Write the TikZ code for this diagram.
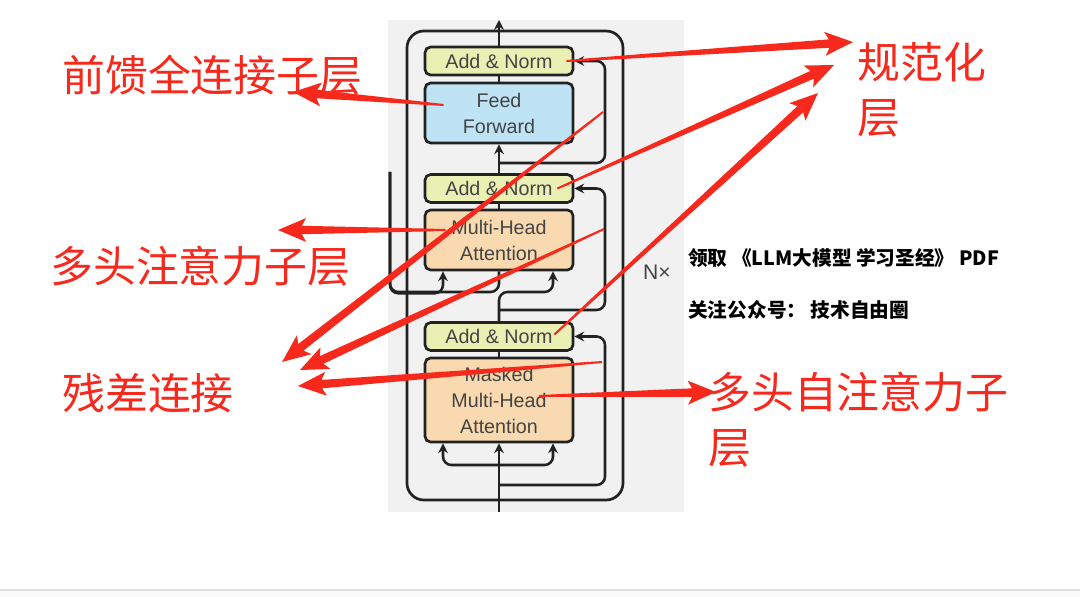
\documentclass[tikz,border=0pt]{standalone}
\usepackage{fontspec}
\setmainfont{Liberation Sans}
\newfontfamily\cjk{Noto Sans CJK SC}
\usetikzlibrary{arrows.meta,calc}
\definecolor{annot}{HTML}{F7281C}
\definecolor{panel}{HTML}{F1F1F1}
\definecolor{normfill}{HTML}{EAF0B4}
\definecolor{fffill}{HTML}{BEE3F4}
\definecolor{attfill}{HTML}{F9D9AF}
\definecolor{ink}{HTML}{222222}
\definecolor{txt}{HTML}{444444}
\tikzset{
 blk/.style={draw=ink,line width=1.9pt,rounded corners=4pt,minimum width=3.7cm,inner sep=0pt,align=center,text=txt,font=\fontsize{14pt}{18.5pt}\selectfont},
 norm/.style={blk,fill=normfill,minimum height=0.7cm},
 ffn/.style={blk,fill=fffill,minimum height=1.5cm},
 att/.style={blk,fill=attfill,minimum height=1.5cm},
 flow/.style={draw=ink,line width=1.8pt,rounded corners=6pt},
 tip/.style={-{Stealth[length=7pt,width=7pt]}},
 lbl/.style={inner sep=0pt,anchor=west,text=annot,align=left,font=\cjk\fontsize{30.5pt}{39pt}\selectfont},
 note/.style={inner sep=0pt,anchor=west,font=\cjk\bfseries\fontsize{14pt}{17pt}\selectfont}}
% tapered red pointer, from #1 to #2
\newcommand\redarrow[2]{%
 \coordinate (hb) at ($(#2)!17pt!(#1)$);
 \coordinate (hw) at ($(#2)!20pt!(#1)$);
 \fill[annot] ($(#1)!0.7pt!90:(#2)$) -- ($(hb)!3pt!90:(#2)$) -- ($(hw)!8.5pt!90:(#2)$) -- (#2)
  -- ($(hw)!8.5pt!-90:(#2)$) -- ($(hb)!3pt!-90:(#2)$) -- ($(#1)!0.7pt!-90:(#2)$) -- cycle;}

\begin{document}
\begin{tikzpicture}[x=0.025cm,y=-0.025cm]
\useasboundingbox (0,0) rectangle (1080,597);
\fill[white] (0,0) rectangle (1080,597);
\fill[gray!4] (0,590) rectangle (1080,597);
\draw[gray!25,line width=0.8pt] (0,590) -- (1080,590);
\fill[panel] (388,20) rectangle (684,512);
\draw[ink,line width=1.9pt,rounded corners=12pt] (407,31) rectangle (623,500);

% decoder layer
\node[norm] (an1) at (499,61) {Add \& Norm};
\node[ffn] (ff) at (499,113) {Feed\\Forward};
\node[norm] (an2) at (499,188.5) {Add \& Norm};
\node[att] (mha) at (499,240) {Multi-Head\\Attention};
\node[norm] (an3) at (499,336.5) {Add \& Norm};
\node[att,minimum height=2.1cm] (mmha) at (499,400) {Masked\\Multi-Head\\Attention};
\node[text=txt,font=\fontsize{15pt}{18pt}\selectfont] (nx) at (657,272) {N×};

\coordinate (in) at (499,512);
\coordinate (out) at (499,20);
\coordinate (rail) at (605,0);
\coordinate (enc) at (390,172);
\coordinate (split) at (499,465);
\coordinate (res1) at (499,485);
\coordinate (res2) at (499,310);
\coordinate (res3) at (499,163);
\coordinate (qturn) at (499,292);

\draw[flow,tip] (in) -- (mmha.south);
\draw[flow,tip] (split) -| ($(mmha.south)+(-56,0)$);
\draw[flow,tip] (split) -| ($(mmha.south)+(54,0)$);
\draw[flow,tip] (res1) -| (rail |- an3.east) -- (an3.east);
\draw[flow] (mmha.north) -- (an3.south);
\draw[flow,tip] (an3.north) -- (qturn) -| ($(mha.south)+(54,0)$);
\draw[flow,tip] (res2) -| (rail |- an2.east) -- (an2.east);
\draw[flow,tip] (enc) |- ($(mha.south)+(-56,22)$) -- ($(mha.south)+(-56,0)$);
\draw[flow] (enc) |- (qturn) -- (mha.south);
\draw[flow] (mha.north) -- (an2.south);
\draw[flow,tip] (an2.north) -- (ff.south);
\draw[flow,tip] (res3) -| (rail |- an1.east) -- (an1.east);
\draw[flow] (ff.north) -- (an1.south);
\draw[flow,tip] (an1.north) -- (out);

% labels
\node[lbl] (ffl) at (62,75) {前馈全连接子层};
\node[lbl] (nl) at (857,90) {规范化\\层};
\node[lbl] (mhl) at (50,266) {多头注意力子层};
\node[lbl] (resl) at (62,393) {残差连接};
\node[lbl] (mmhl) at (708,420) {多头自注意力子\\层};
\node[note] (get) at (688,258) {领取 《LLM大模型 学习圣经》 PDF};
\node[note] (follow) at (688,310) {关注公众号： 技术自由圈};

% red pointers
\coordinate (n1tail) at ($(an1.east)+(-8,0)$);
\coordinate (n2tail) at ($(an2.east)+(-17,0)$);
\coordinate (n3tail) at ($(an3.east)+(-20,-2)$);
\coordinate (fftail) at ($(ff.west)+(20,-8)$);
\coordinate (mhtail) at ($(mha.west)+(22,-10)$);
\coordinate (mmtail) at ($(mmha.center)+(40,-4)$);
\coordinate (r1) at (603,112);
\coordinate (r2) at (604,229);
\coordinate (r3) at (602,362);
\coordinate (n1tip) at (853,42);
\coordinate (n2tip) at (834,65);
\coordinate (n3tip) at (818,93);
\coordinate (fftip) at (293,92);
\coordinate (mhtip) at (278,230);
\coordinate (r1tip) at (282,362);
\coordinate (r2tip) at (300,370);
\coordinate (r3tip) at (298,386);
\coordinate (mmtip) at (716,392);
\redarrow{n1tail}{n1tip}
\redarrow{n2tail}{n2tip}
\redarrow{n3tail}{n3tip}
\redarrow{fftail}{fftip}
\redarrow{mhtail}{mhtip}
\redarrow{mmtail}{mmtip}
\redarrow{r1}{r1tip}
\redarrow{r2}{r2tip}
\redarrow{r3}{r3tip}
\end{tikzpicture}
\end{document}
